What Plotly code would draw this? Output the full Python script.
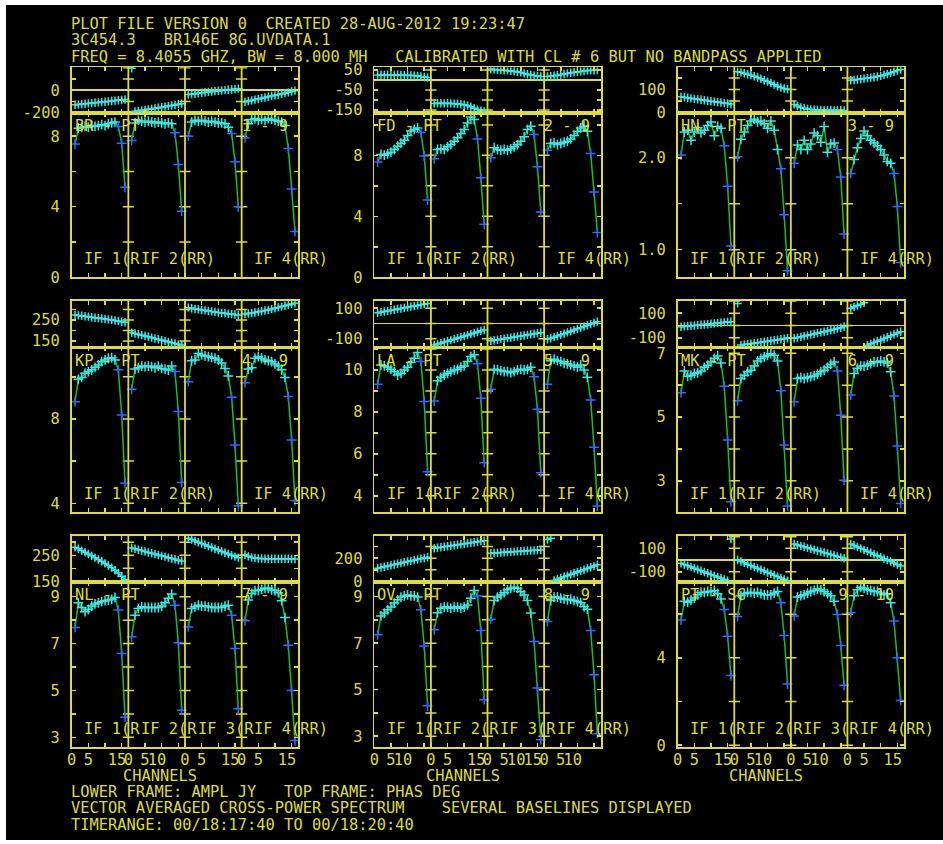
import plotly.graph_objects as go

# ---------------- data ----------------
channels = list(range(1, 17))

baseline_names = ["BR - PT", "FD - PT", "HN - PT", "KP - PT", "LA - PT",
                  "MK - PT", "NL - PT", "OV - PT", "PT - SC"]
baseline_ids = ["1 - 9", "2 - 9", "3 - 9", "4 - 9", "5 - 9",
                "6 - 9", "7 - 9", "8 - 9", "9 - 10"]

amp_BR = [
    [7.55, 8.45, 8.5, 8.55, 8.5, 8.6, 8.55, 8.6, 8.65, 8.6, 8.7, 8.75, 8.8, 8.55, 7.6, 5.1],
    [7.75, 8.75, 8.9, 8.85, 8.8, 8.85, 8.8, 8.75, 8.8, 8.75, 8.7, 8.75, 8.7, 8.2, 6.4, 3.75],
    [8.0, 8.8, 8.9, 8.85, 8.9, 8.85, 8.8, 8.85, 8.8, 8.75, 8.75, 8.7, 8.5, 8.15, 6.55, 4.0],
    [7.9, 8.7, 8.95, 9.0, 8.9, 8.95, 8.9, 9.0, 8.95, 8.9, 8.85, 8.8, 8.6, 7.3, 5.0, 2.6]]
amp_FD = [
    [7.56, 8.06, 8.01, 8.1, 8.2, 8.4, 8.6, 8.8, 9.0, 9.3, 9.6, 9.7, 9.8, 9.5, 7.96, 5.07],
    [7.78, 8.39, 8.43, 8.39, 8.56, 8.71, 8.93, 9.15, 9.43, 9.69, 10.13, 10.52, 10.35, 9.08, 6.53, 3.48],
    [7.84, 8.5, 8.39, 8.34, 8.39, 8.34, 8.43, 8.56, 8.71, 8.93, 9.22, 9.69, 9.91, 9.37, 7.25, 4.29],
    [8.34, 8.78, 8.82, 8.71, 8.78, 8.86, 8.93, 9.08, 9.3, 9.58, 9.8, 9.91, 9.58, 8.13, 5.6, 2.94]]
amp_HN = [
    [2.03, 2.28, 2.30, 2.19, 2.28, 2.33, 2.27, 2.30, 2.35, 2.39, 2.24, 2.34, 2.32, 2.13, 1.69, 1.04],
    [2.01, 2.20, 2.28, 2.35, 2.40, 2.42, 2.39, 2.40, 2.37, 2.32, 2.40, 2.30, 2.09, 1.88, 1.38, 0.77],
    [1.94, 2.14, 2.09, 2.19, 2.09, 2.15, 2.27, 2.24, 2.17, 2.34, 2.06, 2.15, 2.16, 2.09, 1.79, 1.17],
    [1.83, 1.98, 2.11, 2.21, 2.29, 2.24, 2.19, 2.16, 2.13, 2.09, 2.03, 1.96, 1.94, 1.83, 1.47, 0.86]]
amp_KP = [
    [8.82, 9.88, 9.97, 10.17, 10.25, 10.33, 10.45, 10.56, 10.72, 10.8, 10.88, 10.91, 10.8, 10.33, 8.19, 4.95],
    [9.41, 10.37, 10.43, 10.51, 10.48, 10.51, 10.48, 10.43, 10.51, 10.40, 10.36, 10.32, 10.51, 10.25, 8.35, 4.98],
    [9.77, 10.76, 10.8, 11.11, 11.04, 10.99, 10.96, 10.92, 10.88, 10.8, 10.65, 10.4, 10.04, 9.03, 6.77, 3.88],
    [9.72, 10.37, 10.43, 10.88, 10.96, 10.88, 10.8, 10.77, 10.72, 10.61, 10.51, 10.33, 9.97, 9.06, 7.0, 4.13]]
amp_LA = [
    [9.32, 10.24, 10.19, 10.13, 10.03, 9.92, 9.76, 9.84, 10.0, 10.13, 10.35, 10.56, 10.83, 10.4, 8.49, 5.15],
    [8.52, 9.49, 9.65, 9.76, 9.84, 9.92, 10.0, 10.03, 10.13, 10.19, 10.4, 10.64, 10.72, 10.29, 8.65, 5.58],
    [9.08, 10.03, 10.0, 9.97, 9.92, 9.92, 9.87, 9.92, 10.0, 10.03, 10.0, 10.03, 10.13, 9.68, 8.12, 5.1],
    [9.32, 10.44, 10.51, 10.44, 10.4, 10.32, 10.29, 10.24, 10.19, 10.13, 10.24, 10.0, 9.65, 8.57, 6.31, 3.51]]
amp_MK = [
    [5.76, 6.45, 6.28, 6.31, 6.37, 6.39, 6.45, 6.56, 6.63, 6.73, 6.84, 6.92, 6.70, 5.97, 4.28, 2.34],
    [5.51, 6.21, 6.31, 6.42, 6.47, 6.60, 6.76, 6.84, 6.89, 6.94, 6.99, 6.94, 6.76, 5.83, 4.12, 2.21],
    [5.48, 6.21, 6.24, 6.21, 6.24, 6.27, 6.29, 6.35, 6.42, 6.47, 6.56, 6.66, 6.73, 6.45, 5.06, 3.02],
    [5.69, 6.37, 6.53, 6.60, 6.60, 6.63, 6.68, 6.73, 6.73, 6.76, 6.73, 6.70, 6.42, 5.66, 4.09, 2.29]]
amp_NL = [
    [7.69, 8.74, 8.54, 8.36, 8.46, 8.6, 8.69, 8.74, 8.79, 8.83, 8.86, 8.89, 8.97, 8.43, 6.58, 3.86],
    [7.29, 8.21, 8.5, 8.57, 8.54, 8.54, 8.54, 8.54, 8.54, 8.6, 8.74, 8.93, 9.11, 8.64, 7.03, 4.15],
    [7.71, 8.5, 8.57, 8.64, 8.6, 8.6, 8.57, 8.54, 8.54, 8.54, 8.54, 8.6, 8.64, 8.21, 6.79, 4.22],
    [7.97, 8.86, 9.14, 9.26, 9.26, 9.31, 9.36, 9.36, 9.29, 9.26, 9.17, 8.83, 8.11, 6.93, 5.0, 2.86]]
amp_OV = [
    [7.36, 8.17, 8.29, 8.43, 8.55, 8.72, 8.86, 8.98, 9.03, 9.07, 9.03, 9.03, 8.98, 8.43, 6.88, 4.31],
    [7.57, 8.31, 8.5, 8.55, 8.55, 8.5, 8.55, 8.55, 8.5, 8.55, 8.64, 8.93, 9.26, 9.03, 7.54, 4.57],
    [8.03, 8.83, 8.98, 9.07, 9.17, 9.29, 9.36, 9.4, 9.36, 9.21, 9.07, 8.83, 8.29, 7.07, 5.07, 2.85],
    [7.93, 8.83, 8.98, 8.98, 8.93, 8.89, 8.86, 8.89, 8.83, 8.79, 8.74, 8.57, 8.46, 7.54, 5.64, 3.11]]
amp_PS = [
    [5.73, 6.59, 6.55, 6.64, 6.74, 6.89, 7.0, 7.0, 7.04, 7.04, 7.09, 6.94, 6.7, 6.22, 4.99, 3.19],
    [5.89, 6.85, 6.94, 7.0, 7.0, 6.97, 7.0, 6.94, 6.89, 6.89, 6.89, 6.97, 7.04, 6.52, 5.02, 2.8],
    [5.92, 6.79, 6.85, 6.89, 6.97, 7.04, 7.09, 7.15, 7.12, 7.04, 6.94, 6.85, 6.59, 5.99, 4.57, 2.74],
    [6.07, 6.85, 7.12, 7.24, 7.19, 7.12, 7.09, 7.04, 7.04, 6.97, 6.89, 6.94, 6.52, 5.69, 4.0, 2.05]]

phase_BR = [
    [-130, -127, -124, -121, -118, -115, -112, -109, -106, -103, -100, -97, -93, -90, -87, -83],
    [196, -189, -185, -180, -176, -171, -167, -162, -157, -152, -147, -142, -137, -132, -126, -120],
    [-39, -35, -31, -27, -22, -18, -15, -11, -8, -5, -2, 1, 4, 7, 10, 14],
    [-104, -97, -91, -84, -78, -71, -65, -58, -52, -46, -40, -33, -26, -19, -11, -4]]
phase_FD = [
    [25, 26, 25, 26, 25, 25, 26, 25, 24, 24, 23, 22, 20, 18, 15, 12],
    [-117, -116, -116, -117, -116, -117, -118, -119, -121, -124, -128, -134, -141, -148, -154, -157],
    [55, 53, 51, 50, 49, 48, 46, 44, 41, 38, 33, 29, 25, 22, 20, 18],
    [18, 19, 21, 24, 27, 30, 33, 36, 39, 41, 43, 45, 47, 48, 49, 50]]
phase_HN = [
    [68, 66, 64, 61, 59, 57, 55, 53, 51, 49, 47, 45, 43, 41, 39, 37],
    [177, 174, 170, 166, 162, 157, 152, 146, 140, 134, 128, 121, 114, 108, 104, 101],
    [35, 28, 22, 18, 15, 13, 12, 11, 11, 10, 10, 10, 9, 10, 10, 9],
    [140, 141, 143, 145, 147, 149, 151, 153, 156, 159, 163, 167, 172, 177, 182, 186]]
phase_KP = [
    [274, 272, 270, 268, 266, 263, 261, 259, 257, 255, 253, 251, 248, 245, 242, 239],
    [190, 186, 182, 178, 174, 170, 166, 162, 158, 154, 150, 146, 142, 138, 134, 131],
    [309, 306, 303, 301, 298, 296, 293, 291, 288, 286, 284, 282, 280, 278, 276, 274],
    [279, 281, 283, 286, 289, 292, 295, 298, 302, 306, 310, 314, 318, 322, 326, 330]]
phase_LA = [
    [70, 74, 78, 82, 86, 90, 94, 98, 102, 106, 110, 114, 118, 122, 126, 131],
    [-140, -134, -128, -121, -115, -108, -102, -95, -89, -82, -76, -69, -62, -55, -48, -42],
    [-112, -109, -106, -102, -99, -95, -92, -88, -85, -81, -78, -74, -71, -67, -63, -60],
    [-103, -96, -89, -81, -74, -66, -58, -51, -43, -35, -27, -19, -12, -4, 4, 12]]
phase_MK = [
    [-10, -7, -4, -2, 0, 3, 6, 8, 11, 14, 17, 20, 23, 26, 29, 31],
    [180, -159, -155, -152, -148, -144, -140, -136, -132, -128, -124, -120, -116, -112, -108, -104],
    [-104, -98, -92, -86, -80, -74, -68, -62, -56, -50, -44, -38, -32, -25, -18, -10],
    [140, 152, 163, 174, 185, -160, -149, -138, -128, -117, -106, -95, -83, -72, -61, -50]]
phase_NL = [
    [281, 275, 268, 262, 255, 248, 241, 234, 227, 219, 211, 203, 193, 182, 170, 157],
    [278, 275, 271, 268, 265, 261, 258, 255, 251, 248, 245, 241, 238, 235, 231, 228],
    [315, 310, 305, 300, 295, 290, 285, 280, 275, 270, 265, 260, 255, 250, 245, 241],
    [252, 246, 242, 240, 238, 238, 237, 237, 237, 237, 237, 237, 237, 237, 236, 236]]
phase_OV = [
    [114, 120, 127, 133, 139, 146, 152, 158, 165, 171, 177, 183, 190, 196, 202, 208],
    [285, 289, 294, 298, 302, 307, 311, 315, 320, 324, 328, 333, 337, 341, 346, 350],
    [243, 245, 247, 249, 250, 252, 254, 256, 258, 260, 262, 264, 265, 267, 269, 271],
    [360, 372, 9, 19, 30, 40, 50, 61, 71, 81, 91, 101, 112, 122, 132, 143]]
phase_PS = [
    [-28, -38, -49, -60, -70, -81, -92, -102, -113, -124, -134, -145, -156, -166, -177, 180],
    [0, -12, -24, -35, -47, -59, -71, -83, -94, -106, -118, -130, -142, -153, -165, -177],
    [137, 129, 121, 113, 104, 96, 88, 80, 72, 64, 56, 48, 39, 31, 23, 15],
    [137, 125, 112, 100, 87, 75, 62, 50, 37, 25, 12, 0, -13, -25, -38, -51]]

amp_data = [amp_BR, amp_FD, amp_HN, amp_KP, amp_LA, amp_MK, amp_NL, amp_OV, amp_PS]
phase_data = [phase_BR, phase_FD, phase_HN, phase_KP, phase_LA, phase_MK, phase_NL, phase_OV, phase_PS]

# tick values / tick labels
amp_tick_values = [[0, 2, 4, 6, 8], [0, 2, 4, 6, 8, 10], [1.0, 1.5, 2.0],
                   [4, 6, 8, 10], [4, 5, 6, 7, 8, 9, 10, 11], [3, 4, 5, 6, 7],
                   [3, 4, 5, 6, 7, 8, 9], [3, 4, 5, 6, 7, 8, 9], [0, 2, 4, 6]]
amp_tick_labels = [["0", "", "4", "", "8"], ["0", "", "4", "", "8", ""], ["1.0", "", "2.0"],
                   ["4", "", "8", ""], ["4", "", "6", "", "8", "", "10", ""], ["3", "", "5", "", "7"],
                   ["3", "", "5", "", "7", "", "9"], ["3", "", "5", "", "7", "", "9"], ["0", "", "4", ""]]
phase_tick_values = [[-200, -100, 0, 100, 200], [-150, -100, -50, 0, 50], [0, 50, 100, 150],
                     [150, 200, 250, 300], [-100, 0, 100], [-100, 0, 100, 200],
                     [150, 200, 250, 300], [0, 100, 200, 300], [-100, 0, 100, 200]]
phase_tick_labels = [["-200", "", "0", "", ""], ["-150", "", "-50", "", "50"], ["0", "", "100", ""],
                     ["150", "", "250", ""], ["-100", "", "100"], ["-100", "", "100", ""],
                     ["150", "", "250", ""], ["0", "", "200", ""], ["-100", "", "100", ""]]
channel_tick_values = [0, 5, 10, 15]
channel_tick_labels = [
    [["0", "5", "", "15"], ["0", "5", "10", ""], ["0", "5", "", "15"], ["0", "5", "", "15"]],
    [["0", "5", "10", ""], ["0", "5", "", "15"], ["0", "5", "10", "15"], ["0", "5", "10", ""]],
    [["0", "5", "", "15"], ["0", "5", "10", ""], ["0", "5", "10", ""], ["0", "5", "", "15"]]]
if_labels = [["IF 1(R", "IF 2(RR)", "", "IF 4(RR)"],
             ["IF 1(R", "IF 2(RR)", "", "IF 4(RR)"],
             ["IF 1(R", "IF 2(R", "IF 3(R", "IF 4(RR)"]]

header_lines = ["PLOT FILE VERSION 0  CREATED 28-AUG-2012 19:23:47",
                "3C454.3   BR146E 8G.UVDATA.1",
                "FREQ = 8.4055 GHZ, BW = 8.000 MH   CALIBRATED WITH CL # 6 BUT NO BANDPASS APPLIED"]
footer_lines = ["LOWER FRAME: AMPL JY   TOP FRAME: PHAS DEG",
                "VECTOR AVERAGED CROSS-POWER SPECTRUM    SEVERAL BASELINES DISPLAYED",
                "TIMERANGE: 00/18:17:40 TO 00/18:20:40"]
x_title = "CHANNELS"

# ---------------- styling / geometry ----------------
W, H = 943, 844
YEL = "#dcdc3a"
CYAN = "#3ce6e6"
BLUE = "#2f6bff"
GREEN = "#14c21e"
MONO = "DejaVu Sans Mono"
FS = 15.4
IF_SPAN = 17

col_px = [(71.7, 298.3), (374.3, 600.7), (677.7, 904.0)]
row_px = [(67.3, 112.7, 277.3), (300.7, 347.3, 511.7), (535.7, 581.7, 746.7)]
amp_ranges = [[0, 9.33], [0, 10.8], [0.70, 2.49], [3.6, 11.4], [3.24, 11.08],
              [2.03, 7.19], [2.6, 9.64], [2.55, 9.64], [-0.07, 7.49]]
phase_ranges = [[-201, 205], [-163.5, 63.5], [-1, 196], [120, 342], [-155, 148.5],
                [-177, 202], [149, 325], [-2, 393], [-185, 208]]


def xd(px):
    return px / W


def yd(py):
    return 1 - py / H


fig = go.Figure()
layout = {}
shapes = []
annotations = []

# black page background (white border at top/left as in the reference)
shapes.append(dict(type="rect", xref="paper", yref="paper", x0=xd(6), x1=1.0,
                   y0=yd(840), y1=yd(5), fillcolor="black", line=dict(width=0), layer="below"))

axis_common = dict(showgrid=False, showline=True, linecolor=YEL, linewidth=1.8,
                   mirror="ticks", ticks="inside", ticklen=4, tickwidth=1.5, tickcolor=YEL,
                   tickfont=dict(family=MONO, size=FS, color=YEL), fixedrange=True,
                   automargin=False, tickangle=0)

x_tickvals = [k * IF_SPAN + t for k in range(4) for t in channel_tick_values]
div_x = [k * IF_SPAN for k in range(1, 4)]


def ann(text, x, y, xanchor="left"):
    annotations.append(dict(text=text, x=xd(x), y=yd(y), xref="paper", yref="paper",
                            xanchor=xanchor, yanchor="middle", showarrow=False,
                            font=dict(family=MONO, size=FS, color=YEL)))


for p in range(9):
    r, c = divmod(p, 3)
    xl, xr = col_px[c]
    yt, yb, ybot = row_px[r]
    ia, ip = 2 * p + 1, 2 * p + 2
    sa = "" if ia == 1 else str(ia)
    sp = str(ip)

    ttext = []
    for k in range(4):
        for lab in channel_tick_labels[c][k]:
            ttext.append(lab + "\u00a0" if len(lab) == 2 else lab)

    layout["xaxis" + sa] = dict(axis_common, domain=[xd(xl), xd(xr)], range=[0, 4 * IF_SPAN],
                                anchor="y" + sa, tickmode="array", tickvals=x_tickvals,
                                ticktext=ttext, showticklabels=(r == 2), zeroline=False,
                                ticklabelstandoff=-2)
    layout["yaxis" + sa] = dict(axis_common, domain=[yd(ybot), yd(yb)], range=amp_ranges[p],
                                anchor="x" + sa, tickmode="array", tickvals=amp_tick_values[p],
                                ticktext=amp_tick_labels[p], zeroline=False, ticklabelstandoff=7)
    layout["xaxis" + sp] = dict(axis_common, domain=[xd(xl), xd(xr)], range=[0, 4 * IF_SPAN],
                                anchor="y" + sp, tickmode="array", tickvals=x_tickvals,
                                showticklabels=False, zeroline=False)
    layout["yaxis" + sp] = dict(axis_common, domain=[yd(yb), yd(yt)], range=phase_ranges[p],
                                anchor="x" + sp, tickmode="array", tickvals=phase_tick_values[p],
                                ticktext=phase_tick_labels[p], zeroline=True, zerolinecolor=YEL,
                                zerolinewidth=1.8, ticklabelstandoff=7)

    # IF divider lines
    for dx in div_x:
        for ref in (sa, sp):
            shapes.append(dict(type="line", xref="x" + ref, yref="y" + ref + " domain",
                               x0=dx, x1=dx, y0=0, y1=1, line=dict(color=YEL, width=1.8)))

    # tick marks across divider lines
    for ref, tv in ((sa, amp_tick_values[p]), (sp, phase_tick_values[p])):
        rng = amp_ranges[p] if ref == sa else phase_ranges[p]
        tv_in = [v for v in tv if rng[0] < v < rng[1]]
        fig.add_trace(go.Scatter(
            x=[dx for dx in div_x for _ in tv_in], y=[v for _ in div_x for v in tv_in],
            mode="markers", xaxis="x" + ref, yaxis="y" + ref, hoverinfo="skip",
            marker=dict(symbol="line-ew", size=8, line=dict(color=YEL, width=1.5)),
            showlegend=False))

    for k in range(4):
        xs = [k * IF_SPAN + ch for ch in channels]
        # phase (break the line where the phase wraps)
        px_, py_ = [], []
        ph = phase_data[p][k]
        for i, (xv, yv) in enumerate(zip(xs, ph)):
            if i > 0 and abs(yv - ph[i - 1]) > 180:
                px_.append(None)
                py_.append(None)
            px_.append(xv)
            py_.append(yv)
        fig.add_trace(go.Scatter(
            x=px_, y=py_, mode="lines+markers", xaxis="x" + sp, yaxis="y" + sp,
            line=dict(color=CYAN, width=1.5), connectgaps=False,
            marker=dict(symbol="cross-thin", size=6, line=dict(color=CYAN, width=1.5)),
            showlegend=False))
        # amplitude
        mcols = [BLUE if i in (0, 13, 14, 15) else CYAN for i in range(len(channels))]
        fig.add_trace(go.Scatter(
            x=xs, y=amp_data[p][k], mode="lines+markers", xaxis="x" + sa, yaxis="y" + sa,
            line=dict(color=GREEN, width=1.5),
            marker=dict(symbol="cross-thin", size=7, line=dict(color=mcols, width=1.5)),
            showlegend=False))

    # baseline label
    pad = 23 - len(baseline_names[p]) - len(baseline_ids[p])
    ann(baseline_names[p] + "\u00a0" * pad + baseline_ids[p], xl + 1, yb + 13.5)
    # IF labels
    ifw = (xr - xl) / 4
    for k in range(4):
        if if_labels[r][k]:
            ann(if_labels[r][k].replace(" ", "\u00a0"), xl + k * ifw + 10.5, ybot - 18)
    # x title under the bottom row
    if r == 2:
        ann(x_title, xl + 49.5, 775.5)

for i, t in enumerate(header_lines):
    ann(t.replace(" ", "\u00a0"), 68.5, 23.5 + i * 16.6)
for i, t in enumerate(footer_lines):
    ann(t.replace(" ", "\u00a0"), 68.5, 791.7 + i * 16.4)

layout.update(dict(width=W, height=H, margin=dict(l=0, r=0, t=0, b=0, pad=0, autoexpand=False),
                   autosize=False, paper_bgcolor="white", plot_bgcolor="black", showlegend=False,
                   shapes=shapes, annotations=annotations, hovermode=False))
fig.update_layout(**layout)
fig.write_html("out.html", config={"displayModeBar": False, "staticPlot": True},
               post_script="document.body.style.margin='0px';document.body.style.overflow='hidden';")
